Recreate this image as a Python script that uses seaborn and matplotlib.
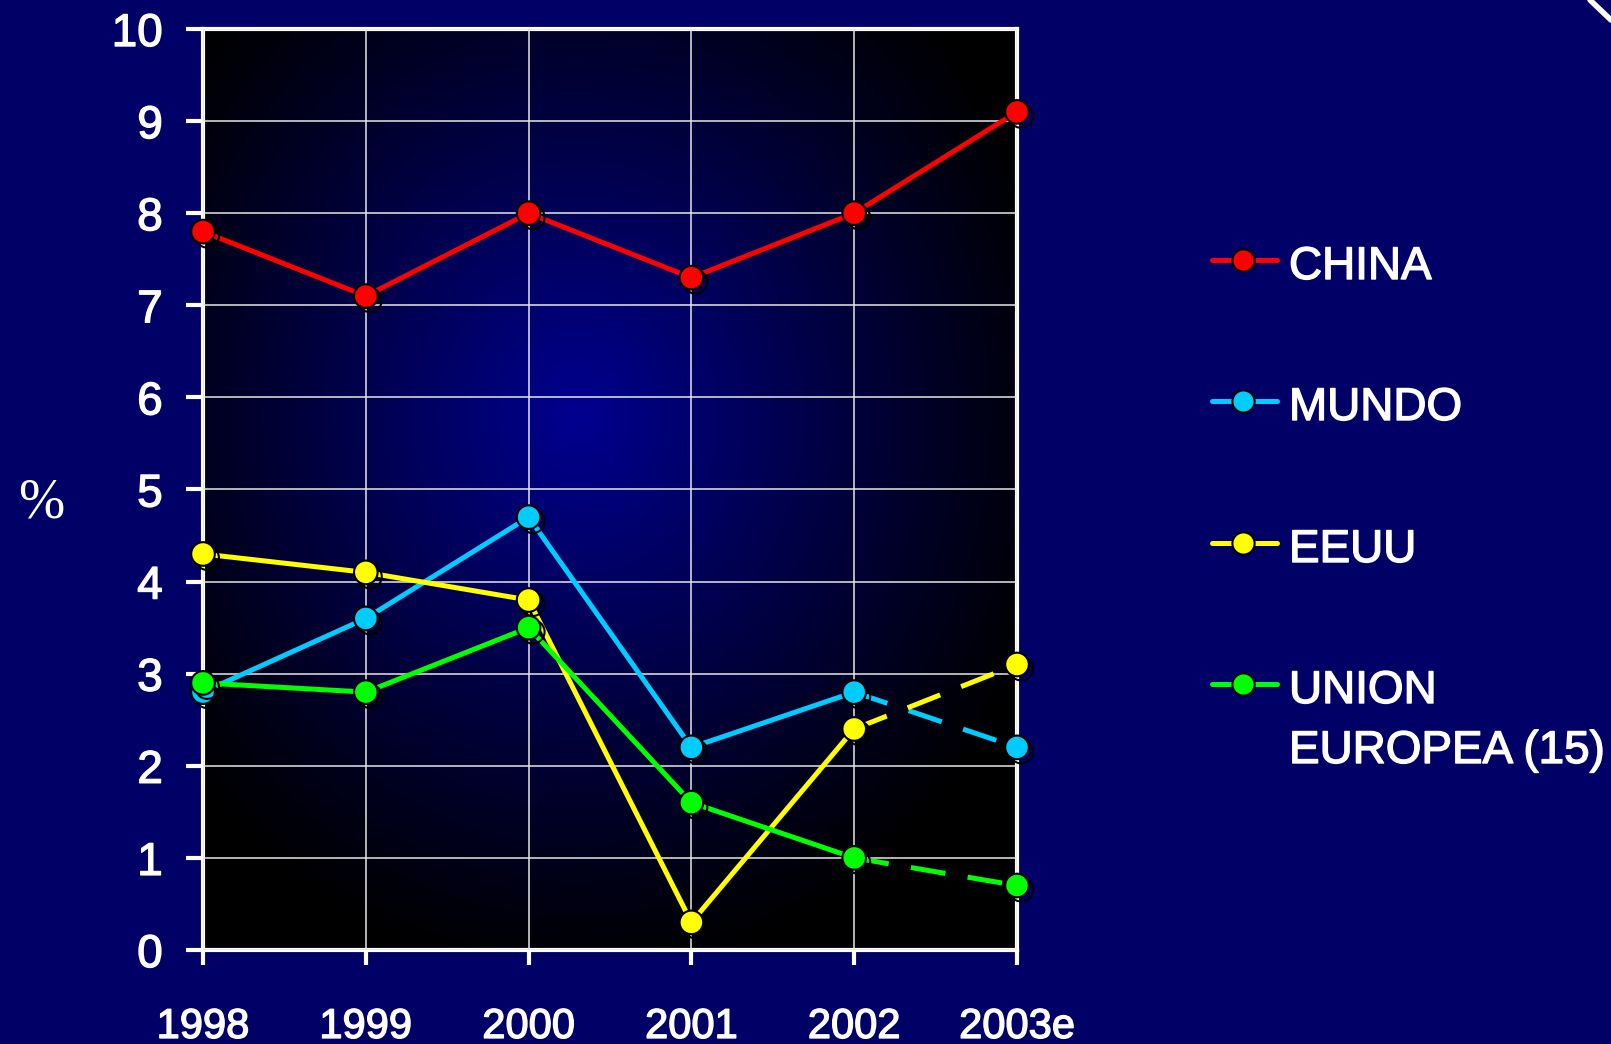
import numpy as np
import pandas as pd
import matplotlib.pyplot as plt
import matplotlib.patheffects as pe
from matplotlib.lines import Line2D
from matplotlib.colors import LinearSegmentedColormap
import seaborn as sns

# data (% growth)
years = ["1998", "1999", "2000", "2001", "2002", "2003e"]
china = [7.8, 7.1, 8.0, 7.3, 8.0, 9.1]
mundo = [2.8, 3.6, 4.7, 2.2, 2.8, 2.2]
eeuu = [4.3, 4.1, 3.8, 0.3, 2.4, 3.1]
ue = [2.9, 2.8, 3.5, 1.6, 1.0, 0.7]

names = ["CHINA", "MUNDO", "EEUU", "UNION\nEUROPEA (15)"]
colors = ["#ff0000", "#00ccff", "#ffff00", "#00ff00"]
dashed_last = [False, True, True, True]

bg = "#000066"

sns.set_style("white")
plt.rcParams["font.family"] = ["Liberation Sans", "DejaVu Sans"]

fig = plt.figure(figsize=(16.11, 10.44), dpi=100, facecolor=bg)
ax = fig.add_axes([203 / 1611, 94 / 1044, 814 / 1611, 921 / 1044])

# radial gradient behind the plot
u, v = np.meshgrid(np.linspace(0, 1, 400), np.linspace(0, 1, 400))
r = np.sqrt(((u - 0.46) / 0.62) ** 2 + ((v - 0.58) / 0.62) ** 2)
glow = np.clip(1 - r, 0, 1) ** 1.1
cmap = LinearSegmentedColormap.from_list("glow", ["#000000", "#000090"])
ax.imshow(glow, cmap=cmap, extent=(0, 1, 0, 1), origin="lower",
          transform=ax.transAxes, aspect="auto", zorder=0, vmin=0, vmax=1)

x = np.arange(len(years))
shadow = [pe.SimpleLineShadow(offset=(3, -3), shadow_color="black", alpha=1), pe.Normal()]
heavy = [pe.withStroke(linewidth=1.0, foreground="white")]

for vals, col, dash in zip([china, mundo, eeuu, ue], colors, dashed_last):
    df = pd.DataFrame({"x": x, "y": vals})
    cut = 4 if dash else 5
    sns.lineplot(data=df.iloc[:cut + 1], x="x", y="y", color=col, lw=3.6, ax=ax,
                 zorder=3, clip_on=False)
    if dash:
        sns.lineplot(data=df.iloc[cut:], x="x", y="y", color=col, lw=3.6, ax=ax,
                     zorder=3, dashes=False, linestyle=(0, (7, 4.5)), clip_on=False)
    ax.plot(df["x"], df["y"], linestyle="none", marker="o", ms=17, mfc=col,
            mec="black", mew=1.5, zorder=4, clip_on=False, path_effects=shadow)

ax.set_xlim(0, 5)
ax.set_ylim(0, 10)
ax.set_xticks(x)
ax.set_xticklabels(years)
ax.set_yticks(range(0, 11))
ax.set_xlabel("")
ax.set_ylabel("")
ax.grid(True, color="#e6e6e6", lw=1.1, zorder=1)
ax.set_axisbelow(False)
for s in ax.spines.values():
    s.set_color("white")
    s.set_linewidth(3)
    s.set_visible(True)
ax.tick_params(axis="x", bottom=True, colors="white", length=11, width=3, pad=30, labelsize=30)
ax.tick_params(axis="y", left=True, colors="white", length=12, width=3, pad=17, labelsize=33)
for t in ax.get_xticklabels() + ax.get_yticklabels():
    t.set_color("white")
    t.set_path_effects(heavy)

fig.text(41 / 1611, 1 - 503 / 1044, "%", color="white", fontsize=40,
         family=["Liberation Serif", "DejaVu Serif"], ha="center", va="center")

# legend drawn by hand to match the slide layout
rows = [260, 401, 543, 684]
for name, col, yy in zip(names, colors, rows):
    yf = 1 - yy / 1044
    fig.add_artist(Line2D([1212 / 1611, 1277 / 1611], [yf, yf], color=col, lw=3.6,
                          transform=fig.transFigure))
    fig.add_artist(Line2D([1243 / 1611], [yf], marker="o", ms=16, mfc=col, mec="black",
                          mew=1.5, transform=fig.transFigure))
    for i, part in enumerate(name.split("\n")):
        fig.text(1289 / 1611, 1 - (yy + 7 + i * 60) / 1044, part, color="white",
                 fontsize=33, ha="left", va="center", path_effects=heavy)

# small white stroke in the top-right corner of the slide
fig.add_artist(Line2D([1590 / 1611, 1611 / 1611], [1.0, 1 - 20 / 1044], color="white",
                      lw=4, transform=fig.transFigure))

fig.savefig("out.png", dpi=100, facecolor=bg)
